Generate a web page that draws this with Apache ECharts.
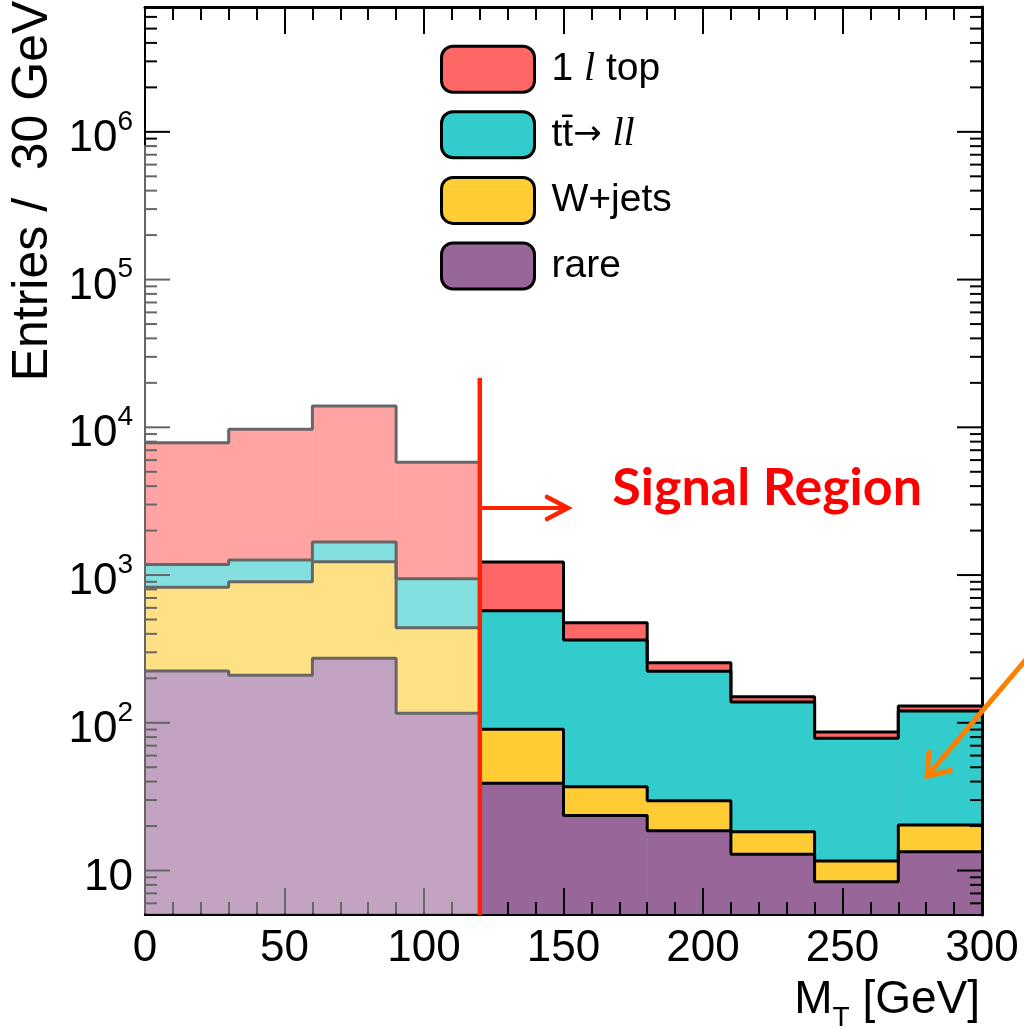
<!DOCTYPE html>
<html><head><meta charset="utf-8">
<script src="https://cdn.jsdelivr.net/npm/echarts@6/dist/echarts.min.js"></script>
<style>html,body{margin:0;padding:0;background:#fff;} #c{width:1024px;height:1028px;}</style>
</head><body><div id="c"></div>
<script>
// ---- data ----
const binEdges = [0, 30, 60, 90, 120, 150, 180, 210, 240, 270, 300];
const top1l = [6690, 8430, 12270, 4860, 652, 112, 31, 12, 8.1, 9.4];
const ttll  = [354, 362, 441, 504, 482, 326, 194, 120, 67, 100];
const wjets = [602, 692, 957, 324, 51.5, 13.3, 11.1, 5.4, 3.2, 6.9];
const rare  = [224, 210, 273, 116, 39, 23.6, 18.6, 12.9, 8.4, 13.4];
const seriesNames = ['top1l', 'ttll', 'wjets', 'rare'];
const seriesColors = ['#FF6666', '#33CCCC', '#FFCC33', '#996699'];
const legendLabels = {
  top1l: '{n|1 }{i|l}{n| top}',
  ttll: '{n|tt\u0304}{a|\u2192}{n| }{i|ll}',
  wjets: '{n|W+jets}',
  rare: '{n|rare}'
};
const yMin = 5, yMax = 7e6;
const yDecades = [0, 1, 2, 3, 4, 5, 6];
const xMin = 0, xMax = 300, xInterval = 50;
const cutValue = 120;          // signal region cut
const fadeTopValue = 8.1e5;    // top of faded control region

// cumulative stack tops
const cumRare = rare.slice();
const cumW = cumRare.map((v, i) => v + wjets[i]);
const cumTT = cumW.map((v, i) => v + ttll[i]);
const cumTop = cumTT.map((v, i) => v + top1l[i]);
const stackTops = [cumTop, cumTT, cumW, cumRare];

const FONT = '"Liberation Sans", Arial, Helvetica, sans-serif';

function makeFill(name, color, tops, z) {
  return {
    type: 'custom', name: name, coordinateSystem: 'cartesian2d', z: z, silent: true,
    itemStyle: { color: color },
    data: tops.map((v, i) => [binEdges[i], binEdges[i + 1], v]),
    encode: { x: [0, 1], y: 2 },
    renderItem: function (params, api) {
      const p0 = api.coord([api.value(0), api.value(2)]);
      const p1 = api.coord([api.value(1), api.value(2)]);
      const cs = params.coordSys;
      const bottom = cs.y + cs.height;
      return { type: 'rect', shape: { x: p0[0], y: p0[1], width: p1[0] - p0[0] + 0.5, height: bottom - p0[1] },
        style: { fill: color } };
    }
  };
}
function makeOutline(tops) {
  const pts = tops.map((v, i) => [binEdges[i], v]);
  pts.push([binEdges[binEdges.length - 1], tops[tops.length - 1]]);
  return { type: 'line', step: 'end', data: pts, symbol: 'none', z: 6, silent: true,
    lineStyle: { color: '#000', width: 3 }, animation: false };
}

const series = [];
for (let k = 0; k < 4; k++) series.push(makeFill(seriesNames[k], seriesColors[k], stackTops[k], 2 + k * 0.1));
for (let k = 0; k < 4; k++) series.push(makeOutline(stackTops[k]));

// major and minor log ticks on left and right axes
series.push({
  type: 'custom', coordinateSystem: 'cartesian2d', z: 7, silent: true, data: [[0, 10]],
  renderItem: function (params, api) {
    const cs = params.coordSys;
    const children = [];
    yDecades.forEach(function (e) {
      for (let m = 1; m <= 9; m++) {
        const v = m * Math.pow(10, e);
        if (v <= yMin || v >= yMax) continue;
        const len = m === 1 ? 25 : 12;
        const y = api.coord([0, v])[1];
        children.push({ type: 'line', shape: { x1: cs.x, y1: y, x2: cs.x + len, y2: y }, style: { stroke: '#000', lineWidth: 2 } });
        children.push({ type: 'line', shape: { x1: cs.x + cs.width - len, y1: y, x2: cs.x + cs.width, y2: y }, style: { stroke: '#000', lineWidth: 2 } });
      }
    });
    return { type: 'group', children: children };
  }
});

// fade overlay on the control region
series.push({
  type: 'custom', coordinateSystem: 'cartesian2d', z: 8, silent: true, data: [[0, 10]],
  renderItem: function (params, api) {
    const cs = params.coordSys;
    const p0 = api.coord([xMin, fadeTopValue]);
    const p1 = api.coord([cutValue, yMin]);
    return { type: 'rect', shape: { x: p0[0] - 3, y: p0[1], width: p1[0] - p0[0] + 3, height: cs.y + cs.height - 1.5 - p0[1] },
      style: { fill: 'rgba(255,255,255,0.4)' } };
  }
});

// annotations: cut line, arrows, text
series.push({
  type: 'custom', coordinateSystem: 'cartesian2d', z: 10, silent: true, data: [[cutValue, 100]],
  renderItem: function (params, api) {
    const cs = params.coordSys;
    const lt = api.coord([cutValue, 21600]);
    const lb = [lt[0], cs.y + cs.height];
    const a0 = api.coord([cutValue, 2845]);
    const a1 = api.coord([151.6, 2845]);
    const txt = api.coord([223, 3900]);
    const o0 = api.coord([318, 300]);
    const o1 = api.coord([280.3, 43.5]);
    const red = '#FF2200';
    const dx = o0[0] - o1[0], dy = o0[1] - o1[1];
    const L = Math.sqrt(dx * dx + dy * dy);
    const ux = dx / L, uy = dy / L;
    const ang = 36 * Math.PI / 180, hl = 24;
    const w1 = [o1[0] + hl * (ux * Math.cos(ang) - uy * Math.sin(ang)), o1[1] + hl * (ux * Math.sin(ang) + uy * Math.cos(ang))];
    const w2 = [o1[0] + hl * (ux * Math.cos(-ang) - uy * Math.sin(-ang)), o1[1] + hl * (ux * Math.sin(-ang) + uy * Math.cos(-ang))];
    return { type: 'group', children: [
      { type: 'line', shape: { x1: lt[0], y1: lt[1], x2: lb[0], y2: lb[1] }, style: { stroke: red, lineWidth: 4.5 } },
      { type: 'line', shape: { x1: a0[0], y1: a0[1], x2: a1[0] - 1, y2: a1[1] }, style: { stroke: red, lineWidth: 4 } },
      { type: 'polyline', shape: { points: [[a1[0] - 21, a1[1] - 11], a1, [a1[0] - 21, a1[1] + 11]] },
        style: { stroke: red, lineWidth: 4.5, fill: null, lineJoin: 'miter', lineCap: 'round' } },
      { type: 'text', x: txt[0], y: txt[1], style: { text: 'Signal Region', fill: '#FF0000', fontSize: 52, fontWeight: 'bold',
        fontFamily: 'Lato, "Open Sans", sans-serif', align: 'center', verticalAlign: 'middle' } },
      { type: 'line', shape: { x1: o0[0], y1: o0[1], x2: o1[0], y2: o1[1] }, style: { stroke: '#FF7F00', lineWidth: 5, lineCap: 'round' } },
      { type: 'polyline', shape: { points: [w1, o1, w2] }, style: { stroke: '#FF7F00', lineWidth: 5, fill: null, lineCap: 'round', lineJoin: 'round' } }
    ] };
  }
});

const chart = echarts.init(document.getElementById('c'), null, { renderer: 'canvas' });
const xAxisCommon = {
  type: 'value', min: xMin, max: xMax, interval: xInterval, z: 7,
  splitLine: { show: false },
  axisTick: { show: true, inside: true, length: 27, lineStyle: { color: '#000', width: 2 } },
  minorTick: { show: true, splitNumber: 5, length: 13, lineStyle: { color: '#000', width: 2 } },
  minorSplitLine: { show: false }
};
const yAxisCommon = {
  type: 'log', logBase: 10, min: yMin, max: yMax, z: 7,
  splitLine: { show: false },
  axisTick: { show: false },
  minorTick: { show: false }
};
chart.setOption({
  animation: false,
  backgroundColor: '#fff',
  grid: { left: 145, right: 42, top: 7, bottom: 113, containLabel: false, outerBoundsMode: 'none' },
  xAxis: [
    Object.assign({}, xAxisCommon, {
      position: 'bottom',
      axisLine: { show: true, onZero: false, lineStyle: { color: '#000', width: 2 } },
      axisLabel: { show: true, margin: 12, fontSize: 44, fontFamily: FONT, color: '#000' }
    }),
    Object.assign({}, xAxisCommon, {
      position: 'top',
      axisLine: { show: true, onZero: false, lineStyle: { color: '#000', width: 3 } },
      axisLabel: { show: false }
    })
  ],
  yAxis: [
    Object.assign({}, yAxisCommon, {
      position: 'left',
      axisLine: { show: true, onZero: false, lineStyle: { color: '#000', width: 2 } },
      axisLabel: {
        show: true, margin: 12, color: '#000',
        formatter: function (v) {
          const e = Math.log10(v);
          if (Math.abs(e - Math.round(e)) > 1e-6) return '';
          const n = Math.round(e);
          if (n === 1) return '{b|10}';
          return '{b|10}{s|' + n + '}';
        },
        rich: {
          b: { fontSize: 44, fontFamily: FONT, color: '#000', padding: [14, 0, 0, 0] },
          s: { fontSize: 28, fontFamily: FONT, color: '#000', padding: [0, 0, 20, 0] }
        }
      }
    }),
    Object.assign({}, yAxisCommon, {
      position: 'right',
      axisLine: { show: true, onZero: false, lineStyle: { color: '#000', width: 3 } },
      axisLabel: { show: false }
    })
  ],
  legend: {
    show: true, orient: 'vertical', left: 440, top: 44.7, z: 20, padding: 0,
    data: seriesNames, selectedMode: false,
    icon: 'roundRect', itemWidth: 93, itemHeight: 46, itemGap: 16.6,
    itemStyle: { borderColor: '#000', borderWidth: 3 },
    formatter: function (name) { return legendLabels[name]; },
    textStyle: {
      padding: [0, 0, 0, 12], lineHeight: 46,
      rich: {
        n: { fontSize: 39, fontFamily: FONT, color: '#000', lineHeight: 46 },
        a: { fontSize: 34, fontFamily: '"DejaVu Sans", sans-serif', color: '#000', lineHeight: 46 },
        i: { fontSize: 40, fontFamily: '"Liberation Serif", "DejaVu Serif", serif', fontStyle: 'italic', color: '#000', lineHeight: 46 }
      }
    }
  },
  graphic: [
    { type: 'text', x: 33, y: 191, rotation: Math.PI / 2, silent: true,
      style: { text: 'Entries /  30 GeV', fontSize: 50, fontFamily: FONT, fill: '#000', align: 'center', verticalAlign: 'middle' } },
    { type: 'text', x: 980, y: 1000, silent: true,
      style: { text: '{m|M}{t|T}{m| [GeV]}', align: 'right', verticalAlign: 'middle',
        rich: {
          m: { fontSize: 46, fontFamily: FONT, fill: '#000' },
          t: { fontSize: 28, fontFamily: FONT, fill: '#000', padding: [36, 0, 0, 0] }
        } } }
  ],
  series: series
});
</script>
</body></html>
